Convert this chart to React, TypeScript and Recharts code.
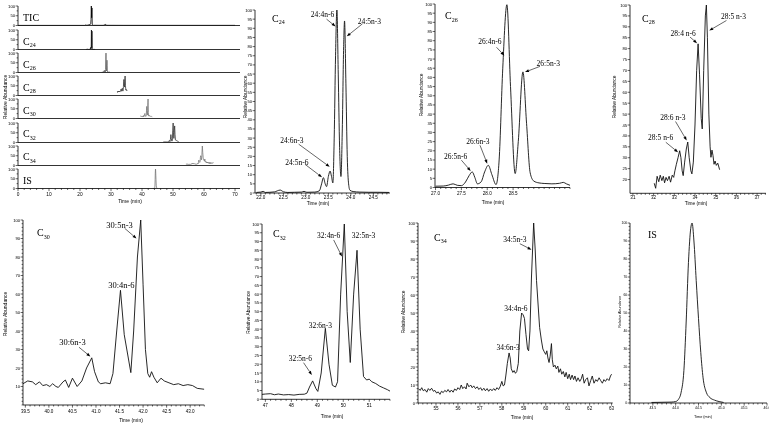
import React from 'react';
import { LineChart, Line, XAxis, YAxis, ReferenceLine, ReferenceDot } from 'recharts';

const FONT_SANS = "'Liberation Sans', Arial, sans-serif";
const FONT_SERIF = "'Liberation Serif', 'Times New Roman', serif";

type Pair = [number, number];
type Pt = { t: number; v: number };
type Note = { text: string; tx: number; ty: number; arrow?: [number, number, number, number] };

// ---------------- data (time in min, relative abundance) ----------------
const ticData: Pair[] = [
  [0, 0.5], [21.5, 0.5], [21.9, 3], [22.2, 0.8], [23.3, 5], [23.45, 8], [23.55, 30], [23.65, 100],
  [23.75, 40], [23.85, 90], [23.95, 5], [24.3, 1], [27.5, 0.8], [28.0, 4], [28.3, 6], [28.6, 1],
  [34, 0.8], [70, 0.8],
];

const c24Data: Pair[] = [
  [21.9, 0.3], [22.0, 0.5], [22.05, 0.9], [22.1, 0.3], [22.2, 0.4], [22.3, 0.6], [22.43, 1.6], [22.5, 0.7],
  [22.6, 0.3], [22.75, 0.4], [22.9, 0.5], [22.96, 0.9], [23.02, 0.4], [23.2, 0.5], [23.3, 1.2], [23.35, 5],
  [23.39, 8.4], [23.43, 5], [23.46, 3.5], [23.5, 9], [23.54, 12], [23.57, 9], [23.6, 5.5], [23.63, 30],
  [23.66, 75], [23.69, 100], [23.72, 65], [23.75, 25], [23.78, 9], [23.81, 35], [23.84, 80], [23.86, 94],
  [23.89, 60], [23.92, 20], [23.95, 5], [23.98, 1.5], [24.05, 0.8], [24.2, 0.5], [24.4, 0.4], [24.6, 0.4],
  [24.85, 0.3],
];

const c26Data: Pair[] = [
  [27.0, 0.7], [27.15, 0.8], [27.25, 1.3], [27.34, 2], [27.42, 1.2], [27.5, 1], [27.58, 3], [27.65, 6.5],
  [27.71, 8.5], [27.76, 5.5], [27.81, 2], [27.88, 3], [27.95, 8.5], [28.02, 12.1], [28.09, 7], [28.17, 1.6],
  [28.23, 15], [28.3, 65], [28.38, 99.6], [28.45, 55], [28.54, 7.6], [28.6, 25], [28.69, 63], [28.76, 35],
  [28.83, 8], [28.9, 3.5], [29.0, 2.5], [29.1, 2.2], [29.25, 2], [29.4, 2.3], [29.47, 2.8], [29.53, 2],
  [29.6, 1.2],
];

const c28Data: Pair[] = [
  [32.03, 18.3], [32.1, 16], [32.17, 21.5], [32.25, 19], [32.32, 22], [32.4, 19.5], [32.47, 21.5],
  [32.53, 18.5], [32.6, 21], [32.67, 19.5], [32.75, 21.5], [32.82, 18.8], [32.9, 22], [32.97, 21],
  [33.03, 24], [33.1, 27], [33.18, 30], [33.26, 33.2], [33.32, 30], [33.38, 24], [33.43, 21.8], [33.5, 28],
  [33.58, 34], [33.65, 37.2], [33.72, 30], [33.8, 24], [33.85, 22.6], [33.92, 28], [34.0, 45], [34.08, 70],
  [34.15, 82.2], [34.22, 68], [34.3, 48], [34.35, 43.2], [34.42, 70], [34.5, 95], [34.55, 100], [34.6, 85],
  [34.67, 50], [34.73, 35], [34.77, 30.2], [34.82, 33.5], [34.87, 31], [34.92, 27], [34.97, 28.5],
  [35.03, 26.5], [35.1, 27.5], [35.19, 24.5],
];

const c30Data: Pair[] = [
  [39.45, 11.5], [39.55, 13], [39.65, 12.5], [39.72, 11], [39.8, 12.5], [39.87, 10.5], [39.95, 11],
  [40.02, 10], [40.08, 11.5], [40.15, 10], [40.2, 9.5], [40.3, 12.5], [40.35, 13.5], [40.42, 9.5],
  [40.5, 14.5], [40.6, 10], [40.7, 13], [40.8, 20], [40.91, 25.5], [40.97, 18], [41.05, 12.5], [41.1, 11.5],
  [41.2, 12], [41.3, 11.5], [41.36, 17], [41.44, 40], [41.52, 62], [41.6, 38], [41.74, 17.5], [41.8, 40],
  [41.88, 80], [41.95, 100], [42.0, 65], [42.05, 30], [42.1, 17], [42.14, 15], [42.18, 18], [42.23, 15],
  [42.3, 12], [42.38, 14.5], [42.45, 13], [42.55, 12], [42.65, 11], [42.75, 11.5], [42.85, 10.5],
  [42.95, 11], [43.05, 10.5], [43.15, 9], [43.3, 8.5],
];

const c32Data: Pair[] = [
  [46.87, 2.8], [47.0, 3], [47.2, 3.2], [47.35, 2.6], [47.5, 3], [47.7, 2.5], [47.9, 2.7], [48.1, 2.4],
  [48.3, 2.8], [48.5, 2.9], [48.6, 3.5], [48.7, 7], [48.82, 10.5], [48.95, 6], [49.02, 4.5], [49.15, 15],
  [49.31, 40.5], [49.45, 20], [49.58, 8], [49.7, 7], [49.78, 10], [49.9, 60], [50.04, 100], [50.15, 50],
  [50.27, 21], [50.4, 60], [50.53, 85], [50.65, 40], [50.78, 13], [50.9, 11], [51.0, 11.5], [51.1, 10],
  [51.25, 9], [51.4, 7.5], [51.55, 6.5], [51.7, 5.5], [51.82, 4.5],
];

const c34Data: Pair[] = [
  [54.2, 8], [54.28, 7], [54.35, 8.5], [54.42, 6.8], [54.5, 7.5], [54.58, 6], [54.65, 8], [54.72, 7],
  [54.8, 8.2], [54.88, 6.5], [54.95, 7], [55.03, 5.5], [55.1, 6.2], [55.18, 4.8], [55.25, 6.5], [55.33, 5.8],
  [55.4, 7], [55.48, 6.2], [55.55, 7.5], [55.63, 6], [55.7, 7.2], [55.78, 6], [55.85, 7.8], [55.93, 7],
  [56.0, 8.5], [56.08, 7.5], [56.15, 10], [56.22, 8], [56.3, 9], [56.37, 7.8], [56.42, 11], [56.5, 9],
  [56.58, 10], [56.65, 8.5], [56.72, 9.5], [56.8, 8], [56.88, 9], [56.95, 7.5], [57.03, 8.5], [57.1, 7],
  [57.18, 8.2], [57.25, 6.8], [57.33, 8], [57.4, 6.5], [57.48, 7.8], [57.55, 6.8], [57.63, 8], [57.7, 7],
  [57.78, 8.5], [57.85, 7.5], [57.92, 9], [58.0, 12], [58.06, 9.5], [58.12, 10], [58.18, 15], [58.25, 22],
  [58.33, 27.8], [58.38, 25], [58.43, 19], [58.5, 17], [58.56, 18], [58.62, 16.5], [58.68, 17.5],
  [58.75, 22], [58.82, 40], [58.9, 50], [58.97, 49], [59.03, 47], [59.1, 38], [59.17, 30], [59.22, 29],
  [59.28, 40], [59.35, 70], [59.45, 100], [59.52, 85], [59.58, 68], [59.65, 55], [59.72, 42], [59.8, 35],
  [59.87, 30], [59.93, 28.5], [60.0, 27], [60.05, 29], [60.1, 25], [60.15, 22.5], [60.2, 26], [60.26, 33],
  [60.3, 24], [60.35, 20], [60.42, 21], [60.48, 19], [60.55, 20.5], [60.6, 17], [60.67, 19], [60.73, 16],
  [60.8, 17.5], [60.87, 14.5], [60.93, 17], [61.0, 13.5], [61.07, 16], [61.13, 13], [61.2, 15.5],
  [61.27, 13], [61.33, 15], [61.4, 12], [61.47, 14], [61.55, 12], [61.62, 13.5], [61.68, 16], [61.75, 11],
  [61.82, 13], [61.9, 14], [61.97, 9.5], [62.05, 12.5], [62.12, 15], [62.2, 11], [62.28, 13], [62.35, 12],
  [62.43, 14], [62.5, 12.5], [62.58, 11], [62.65, 13], [62.72, 12], [62.8, 13.5], [62.88, 12.5],
  [62.95, 15], [63.0, 16],
];

const isData: Pair[] = [
  [43.47, 0.3], [43.7, 0.4], [43.9, 0.5], [44.0, 0.8], [44.06, 2], [44.12, 6], [44.18, 18], [44.23, 45],
  [44.28, 78], [44.33, 97], [44.36, 100], [44.4, 90], [44.45, 68], [44.5, 47], [44.55, 28], [44.6, 14],
  [44.67, 6], [44.75, 3], [44.85, 1.6], [44.95, 0.8], [45.05, 0.3],
];

// ---------------- annotations ----------------
const c24Notes: Note[] = [
  { text: '24:4n-6', tx: 23.37, ty: 97.4, arrow: [23.46, 95, 23.66, 91] },
  { text: '24:5n-3', tx: 24.41, ty: 94, arrow: [24.26, 92.5, 23.91, 85.6] },
  { text: '24:6n-3', tx: 22.69, ty: 29, arrow: [22.84, 26.7, 23.53, 14.3] },
  { text: '24:5n-6', tx: 22.8, ty: 17, arrow: [22.98, 15.7, 23.36, 8.6] },
];
const c26Notes: Note[] = [
  { text: '26:4n-6', tx: 28.05, ty: 79.7, arrow: [28.18, 76.4, 28.33, 71.9] },
  { text: '26:5n-3', tx: 29.18, ty: 67.7, arrow: [29.02, 66, 28.73, 62.9] },
  { text: '26:6n-3', tx: 27.82, ty: 25.2, arrow: [27.86, 23, 28.0, 13] },
  { text: '26:5n-6', tx: 27.39, ty: 16.7, arrow: [27.5, 14.9, 27.68, 9] },
];
const c28Notes: Note[] = [
  { text: '28:4 n-6', tx: 33.43, ty: 87.1, arrow: [33.76, 85.3, 34.1, 82.5] },
  { text: '28:5 n-3', tx: 35.86, ty: 94.8, arrow: [35.52, 92.9, 34.69, 88.3] },
  { text: '28:6 n-3', tx: 32.93, ty: 48.6, arrow: [33.06, 46.6, 33.6, 37.9] },
  { text: '28:5 n-6', tx: 32.34, ty: 39.4, arrow: [32.59, 37.1, 33.18, 32.5] },
];
const c30Notes: Note[] = [
  { text: '30:5n-3', tx: 41.5, ty: 97.3, arrow: [41.61, 95.5, 41.86, 90] },
  { text: '30:4n-6', tx: 41.54, ty: 64.9 },
  { text: '30:6n-3', tx: 40.5, ty: 33.8, arrow: [40.64, 31.2, 40.88, 26.2] },
];
const c32Notes: Note[] = [
  { text: '32:4n-6', tx: 49.44, ty: 93.7, arrow: [49.63, 90.9, 49.95, 81.4] },
  { text: '32:5n-3', tx: 50.78, ty: 93.7 },
  { text: '32:6n-3', tx: 49.12, ty: 42.4 },
  { text: '32:5n-6', tx: 48.35, ty: 23.4, arrow: [48.47, 20.9, 48.79, 13.9] },
];
const c34Notes: Note[] = [
  { text: '34:5n-3', tx: 58.59, ty: 90.7, arrow: [58.82, 88.5, 59.35, 85.2] },
  { text: '34:4n-6', tx: 58.64, ty: 52.4 },
  { text: '34:6n-3', tx: 58.29, ty: 31.1 },
];

// ---------------- tick labels ----------------
const stripXTicks = [0, 10, 20, 30, 40, 50, 60, 70];
const stripYTicks = [0, 50, 100];
const c24XTicks = [22.0, 22.5, 23.0, 23.5, 24.0, 24.5];
const c26XTicks = [27.0, 27.5, 28.0, 28.5];
const c28XTicks = [31, 32, 33, 34, 35, 36, 37];
const c30XTicks = [39.5, 40.0, 40.5, 41.0, 41.5, 42.0, 42.5, 43.0];
const c32XTicks = [47, 48, 49, 50, 51];
const c34XTicks = [55, 56, 57, 58, 59, 60, 61, 62, 63];
const isXTicks = [43.5, 44.0, 44.5, 45.0, 45.5, 46.0];
const y5Ticks = [0, 5, 10, 15, 20, 25, 30, 35, 40, 45, 50, 55, 60, 65, 70, 75, 80, 85, 90, 95, 100];
const c28YTicks = [20, 25, 30, 35, 40, 45, 50, 55, 60, 65, 70, 75, 80, 85, 90, 95, 100];
const c30YTicks = [10, 20, 30, 40, 50, 60, 70, 80, 90, 100];
const y10Ticks = [0, 10, 20, 30, 40, 50, 60, 70, 80, 90, 100];

// ---------------- helpers ----------------
const toPts = (a: Pair[]): Pt[] => a.map(([t, v]) => ({ t, v }));

function steps(a: number, b: number, s: number): number[] {
  const out: number[] = [];
  const start = Math.ceil(a / s - 1e-9);
  const end = Math.floor(b / s + 1e-9);
  for (let i = start; i <= end; i++) out.push(Math.round(i * s * 10000) / 10000);
  return out;
}

const isMajor = (majors: number[], v: number) => majors.some((m) => Math.abs(m - v) < 1e-6);

const xTickFactory = (majors: number[], dec: number, fs: number, lab: number, showLabels = true) => (p: any) => {
  const v = p.payload.value;
  const mj = isMajor(majors, v);
  return (
    <g>
      <line x1={p.x} x2={p.x} y1={p.y} y2={p.y + (mj ? 2.6 : 1.5)} stroke="#000" strokeWidth={0.6} />
      {mj && showLabels ? (
        <text x={p.x} y={p.y + lab} textAnchor="middle" fontSize={fs} fontFamily={FONT_SANS} fill="#000">
          {v.toFixed(dec)}
        </text>
      ) : null}
    </g>
  );
};

const yTickFactory = (majors: number[], fs: number) => (p: any) => {
  const v = p.payload.value;
  const mj = isMajor(majors, v);
  return (
    <g>
      <line x1={p.x - (mj ? 2.4 : 1.4)} x2={p.x} y1={p.y} y2={p.y} stroke="#000" strokeWidth={0.6} />
      {mj ? (
        <text x={p.x - 2.8} y={p.y} dy={fs * 0.36} textAnchor="end" fontSize={fs} fontFamily={FONT_SANS} fill="#000">
          {v}
        </text>
      ) : null}
    </g>
  );
};

const arrowShape = (p: any) => {
  const { x1, y1, x2, y2 } = p;
  const dx = x2 - x1;
  const dy = y2 - y1;
  const len = Math.sqrt(dx * dx + dy * dy) || 1;
  const ux = dx / len;
  const uy = dy / len;
  const hl = 4;
  const hw = 1.5;
  const bx = x2 - ux * hl;
  const by = y2 - uy * hl;
  return (
    <g>
      <line x1={x1} y1={y1} x2={bx} y2={by} stroke="#000" strokeWidth={0.6} />
      <polygon
        points={`${x2},${y2} ${bx - uy * hw},${by + ux * hw} ${bx + uy * hw},${by - ux * hw}`}
        fill="#000"
      />
    </g>
  );
};

type PanelProps = {
  l: number; t: number; r: number; b: number;
  xDomain: [number, number]; yDomain: [number, number];
  xMajor: number[]; xMinorStep: number; xDec: number;
  yMajor: number[]; yMinorStep?: number;
  data: Pair[]; notes?: Note[]; noteFs?: number;
  xFs?: number; yFs?: number; xLab?: number;
  stroke?: string; sw?: number; curve?: 'linear' | 'monotone';
  showX?: boolean; showXLabels?: boolean;
};

function Panel(props: PanelProps) {
  const {
    l, t, r, b, xDomain, yDomain, xMajor, xMinorStep, xDec, yMajor, yMinorStep,
    data, notes = [], noteFs = 7.5, xFs = 4.6, yFs = 4.2, xLab = 6.8,
    stroke = '#111', sw = 0.9, curve = 'linear', showX = true, showXLabels = true,
  } = props;
  const ML = 30, MT = 6, MR = 4, MB = showX ? 16 : 2;
  const w = r - l + ML + MR;
  const h = b - t + MT + MB;
  const xTicks = Array.from(new Set([...steps(xDomain[0], xDomain[1], xMinorStep), ...xMajor]))
    .filter((v) => v >= xDomain[0] - 1e-9 && v <= xDomain[1] + 1e-9)
    .sort((a, c) => a - c);
  const yTicks = Array.from(new Set([...(yMinorStep ? steps(yDomain[0], yDomain[1], yMinorStep) : []), ...yMajor]))
    .filter((v) => v >= yDomain[0] - 1e-9 && v <= yDomain[1] + 1e-9)
    .sort((a, c) => a - c);
  return (
    <div style={{ position: 'absolute', left: l - ML, top: t - MT, width: w, height: h }}>
      <LineChart width={w} height={h} data={toPts(data)} margin={{ top: MT, right: MR, left: 0, bottom: 0 }}>
        <XAxis
          dataKey="t" type="number" domain={xDomain} allowDataOverflow
          ticks={showX ? xTicks : undefined} interval={0}
          tick={showX ? xTickFactory(xMajor, xDec, xFs, xLab, showXLabels) : false}
          tickLine={false} tickSize={0} tickMargin={0} height={MB}
          axisLine={{ stroke: '#000', strokeWidth: 0.8 }}
        />
        <YAxis
          type="number" domain={yDomain} allowDataOverflow ticks={yTicks} interval={0}
          tick={yTickFactory(yMajor, yFs)} tickLine={false} tickSize={0} tickMargin={0} width={ML}
          axisLine={{ stroke: '#000', strokeWidth: 0.8 }}
        />
        <Line dataKey="v" type={curve} stroke={stroke} strokeWidth={sw} dot={false} activeDot={false} isAnimationActive={false} />
        {notes.map((n, i) =>
          n.arrow ? (
            <ReferenceLine
              key={'a' + i}
              ifOverflow="visible"
              segment={[{ x: n.arrow[0], y: n.arrow[1] }, { x: n.arrow[2], y: n.arrow[3] }]}
              shape={arrowShape}
            />
          ) : null
        )}
        {notes.map((n, i) => (
          <ReferenceDot
            key={'d' + i}
            x={n.tx}
            y={n.ty}
            r={0}
            ifOverflow="visible"
            shape={(p: any) => (
              <text x={p.cx} y={p.cy} dy={noteFs * 0.35} textAnchor="middle" fontSize={noteFs} fontFamily={FONT_SERIF} fill="#000">
                {n.text}
              </text>
            )}
          />
        ))}
      </LineChart>
    </div>
  );
}

const Title = ({ x, y, main, sub, fs = 10 }: { x: number; y: number; main: string; sub?: string; fs?: number }) => (
  <text x={x} y={y} fontFamily={FONT_SERIF} fontSize={fs} fill="#000">
    {main}
    {sub ? <tspan fontSize={fs * 0.6} dy={fs * 0.25}>{sub}</tspan> : null}
  </text>
);

const YLab = ({ x, y, fs = 5 }: { x: number; y: number; fs?: number }) => (
  <text transform={`translate(${x},${y}) rotate(-90)`} textAnchor="middle" dy={fs * 0.35} fontFamily={FONT_SANS} fontSize={fs} fill="#000">
    Relative Abundance
  </text>
);

const XLab = ({ x, y, fs = 5 }: { x: number; y: number; fs?: number }) => (
  <text x={x} y={y} textAnchor="middle" fontFamily={FONT_SANS} fontSize={fs} fill="#000">
    Time (min)
  </text>
);

const strips: { name: string; sub?: string; data: Pair[]; top: number; stroke: string }[] = [
  { name: 'TIC', data: ticData, top: 6, stroke: '#000' },
  { name: 'C', sub: '24', data: c24Data, top: 30, stroke: '#111' },
  { name: 'C', sub: '26', data: c26Data, top: 53, stroke: '#666' },
  { name: 'C', sub: '28', data: c28Data, top: 76, stroke: '#333' },
  { name: 'C', sub: '30', data: c30Data, top: 99, stroke: '#777' },
  { name: 'C', sub: '32', data: c32Data, top: 122.5, stroke: '#333' },
  { name: 'C', sub: '34', data: c34Data, top: 145.5, stroke: '#777' },
  { name: 'IS', data: isData, top: 169, stroke: '#777' },
];

export default function App() {
  return (
    <div style={{ position: 'absolute', left: 0, top: 0, width: 769, height: 423, background: '#fff', overflow: 'hidden', filter: 'grayscale(1)' }}>
      {strips.map((s, i) => (
        <Panel
          key={'s' + i}
          l={18} r={240} t={s.top} b={s.top + 19.5}
          xDomain={[0, 71.6]} yDomain={[0, 100]}
          xMajor={stripXTicks} xMinorStep={2} xDec={0}
          yMajor={stripYTicks} yMinorStep={25}
          data={s.data} stroke={s.stroke} sw={0.8}
          yFs={4.3} xFs={4.8} xLab={7.8}
          showX={i === strips.length - 1}
        />
      ))}

      <Panel l={255} r={390} t={10} b={193} xDomain={[21.87, 24.87]} yDomain={[0, 100]}
        xMajor={c24XTicks} xMinorStep={0.1} xDec={1} yMajor={y5Ticks}
        data={c24Data} notes={c24Notes} curve="monotone" xLab={6.2} />
      <Panel l={435} r={570} t={3.5} b={187} xDomain={[26.99, 29.6]} yDomain={[0, 100]}
        xMajor={c26XTicks} xMinorStep={0.1} xDec={1} yMajor={y5Ticks}
        data={c26Data} notes={c26Notes} curve="monotone" xLab={7} />
      <Panel l={630} r={766} t={4.7} b={193} xDomain={[30.86, 37.43]} yDomain={[13.7, 100]}
        xMajor={c28XTicks} xMinorStep={0.2} xDec={0} yMajor={c28YTicks}
        data={c28Data} notes={c28Notes} xLab={6} />

      <Panel l={22.7} r={204} t={220} b={405} xDomain={[39.45, 43.3]} yDomain={[0, 100]}
        xMajor={c30XTicks} xMinorStep={0.1} xDec={1} yMajor={c30YTicks} yMinorStep={2}
        data={c30Data} notes={c30Notes} noteFs={8.5} xLab={8} />
      <Panel l={262} r={390} t={224} b={399.3} xDomain={[46.87, 51.8]} yDomain={[0, 100]}
        xMajor={c32XTicks} xMinorStep={0.2} xDec={0} yMajor={y5Ticks}
        data={c32Data} notes={c32Notes} xLab={7.5} />
      <Panel l={418.3} r={613} t={222.7} b={402.7} xDomain={[54.18, 63.05]} yDomain={[0, 100]}
        xMajor={c34XTicks} xMinorStep={0.2} xDec={0} yMajor={y10Ticks} yMinorStep={2}
        data={c34Data} notes={c34Notes} xLab={7.5} />
      <Panel l={630} r={767} t={222.7} b={402.7} xDomain={[43.0, 46.0]} yDomain={[0, 100]}
        xMajor={isXTicks} xMinorStep={0.1} xDec={1} yMajor={y10Ticks} yMinorStep={2}
        data={isData} curve="monotone" xFs={3.5} yFs={3.4} xLab={6} />

      <svg width={769} height={423} style={{ position: 'absolute', left: 0, top: 0, pointerEvents: 'none' }}>
        {strips.map((s, i) => (
          <Title key={'t' + i} x={23} y={s.top + 14.5} main={s.name} sub={s.sub} fs={10} />
        ))}
        <YLab x={5} y={97} />
        <XLab x={130} y={202.5} fs={5} />

        <Title x={272} y={21.5} main="C" sub="24" />
        <YLab x={245.5} y={97} fs={4.8} />
        <XLab x={318} y={204.5} fs={4.8} />

        <Title x={445} y={19.3} main="C" sub="26" />
        <YLab x={421.7} y={95} fs={4.8} />
        <XLab x={493} y={204} fs={4.8} />

        <Title x={642} y={21.7} main="C" sub="28" />
        <YLab x={614} y={97} fs={4.8} />
        <XLab x={696} y={205} fs={4.8} />

        <Title x={37} y={236} main="C" sub="30" />
        <YLab x={5.7} y={314} />
        <XLab x={131} y={421.5} />

        <Title x={273} y={237} main="C" sub="32" />
        <YLab x={248.3} y={312.5} fs={4.8} />
        <XLab x={332} y={418} fs={4.8} />

        <Title x={434} y={240.5} main="C" sub="34" />
        <YLab x={403} y={312} fs={4.8} />
        <XLab x={522} y={419} fs={4.8} />

        <Title x={648} y={238.3} main="IS" />
        <YLab x={620} y={311.7} fs={3.6} />
        <XLab x={703} y={418} fs={3.8} />
      </svg>
    </div>
  );
}
